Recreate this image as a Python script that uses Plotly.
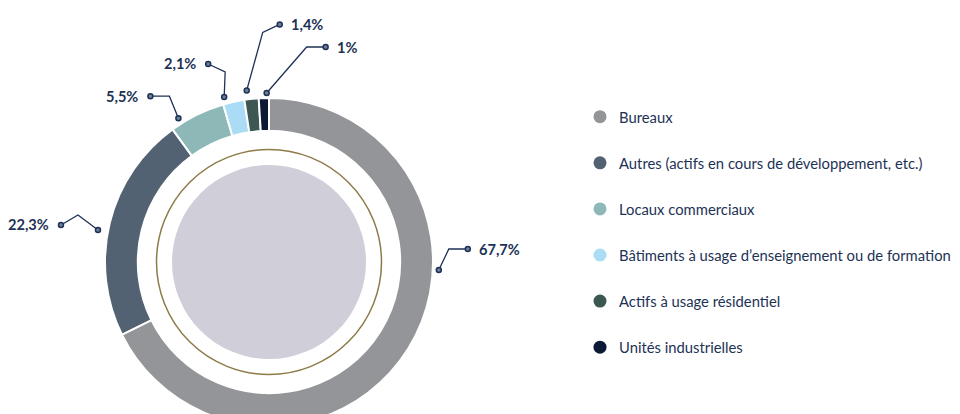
import math
import plotly.graph_objects as go

# ---------------- data ----------------
categories = [
    "Bureaux",
    "Autres (actifs en cours de développement, etc.)",
    "Locaux commerciaux",
    "Bâtiments à usage d’enseignement ou de formation",
    "Actifs à usage résidentiel",
    "Unités industrielles",
]
values = [67.7, 22.3, 5.5, 2.1, 1.4, 1.0]
colors = ["#939598", "#536272", "#8db8b7", "#aadcf5", "#3d5753", "#0c1a36"]

# ---------------- layout constants ----------------
W, H = 960, 430
OFF = 8  # page body margin: screen pixel = axis value
CX, CY, R = 269, 262, 164
HOLE = 0.8
NAVY = "#1d3255"
FONT = "Lato, 'Open Sans', sans-serif"

# leader-line styling per slice (anchor angle clockwise from top, radius, elbow offset, end offset, side)
leaders = [
    dict(angle=92.7, r=170, elbow=(10, -21), end=(19, 0), side="right"),
    dict(angle=280.6, r=174, elbow=(-20, -15), end=(-17, 10), side="left"),
    dict(angle=327.8, r=170, elbow=(-9, -22), end=(-19, 0), side="left"),
    dict(angle=344.8, r=171, elbow=(1, -25), end=(-17, -8), side="left"),
    dict(angle=352.6, r=173, elbow=(16, -58), end=(17, -8), side="right"),
    dict(angle=359.2, r=169, elbow=(40, -46), end=(19, 0), side="right"),
]


def fmt(v):
    return f"{v:g}".replace(".", ",") + "%"


fig = go.Figure()

# donut
fig.add_trace(go.Pie(
    labels=categories,
    values=values,
    hole=HOLE,
    sort=False,
    direction="clockwise",
    rotation=0,
    textinfo="none",
    hoverinfo="label+percent",
    marker=dict(colors=colors, line=dict(color="white", width=2)),
    showlegend=False,
    domain=dict(
        x=[(CX - R - OFF) / W, (CX + R - OFF) / W],
        y=[1 - (CY + R - OFF) / H, 1 - (CY - R - OFF) / H],
    ),
))

# leader lines + labels
annotations = []
for v, ld in zip(values, leaders):
    th = math.radians(ld["angle"])
    ax = CX + ld["r"] * math.sin(th)
    ay = CY - ld["r"] * math.cos(th)
    ex, ey = ax + ld["elbow"][0], ay + ld["elbow"][1]
    fx, fy = ex + ld["end"][0], ey + ld["end"][1]
    fig.add_trace(go.Scatter(
        x=[ax, ex, fx], y=[ay, ey, fy], mode="lines",
        line=dict(color=NAVY, width=1.3), hoverinfo="skip", showlegend=False,
    ))
    fig.add_trace(go.Scatter(
        x=[ax, fx], y=[ay, fy], mode="markers",
        marker=dict(size=5, color="#6f7f99", line=dict(color=NAVY, width=1.5)),
        hoverinfo="skip", showlegend=False,
    ))
    right = ld["side"] == "right"
    annotations.append(dict(
        x=fx + (9 if right else -10), y=fy, xref="x", yref="y",
        text=f"<b>{fmt(v)}</b>", showarrow=False,
        xanchor="left" if right else "right", yanchor="middle",
        font=dict(family=FONT, size=14.6, color=NAVY),
    ))

# custom legend
LX, LY0, LDY = 600, 116.7, 46.1
fig.add_trace(go.Scatter(
    x=[LX] * len(categories),
    y=[LY0 + i * LDY for i in range(len(categories))],
    mode="markers",
    marker=dict(size=13, color=colors, line=dict(width=0)),
    hoverinfo="skip", showlegend=False,
))
for i, c in enumerate(categories):
    annotations.append(dict(
        x=LX + 17, y=LY0 + i * LDY, xref="x", yref="y",
        text=c, showarrow=False, xanchor="left", yanchor="middle",
        font=dict(family=FONT, size=14.8, color=NAVY),
    ))

shapes = [
    dict(type="circle", xref="x", yref="y", x0=CX - 97, x1=CX + 97, y0=CY - 97, y1=CY + 97,
         fillcolor="#cfced9", line=dict(width=0), layer="below"),
    dict(type="circle", xref="x", yref="y", x0=CX - 112.5, x1=CX + 112.5, y0=CY - 112.5, y1=CY + 112.5,
         fillcolor="rgba(0,0,0,0)", line=dict(color="#8f7b4a", width=1.5), layer="below"),
]

fig.update_layout(
    width=W, height=H,
    margin=dict(l=0, r=0, t=0, b=0),
    paper_bgcolor="white", plot_bgcolor="white",
    xaxis=dict(range=[OFF, W + OFF], visible=False, fixedrange=True, domain=[0, 1]),
    yaxis=dict(range=[H + OFF, OFF], visible=False, fixedrange=True, domain=[0, 1]),
    annotations=annotations,
    shapes=shapes,
    font=dict(family=FONT, color=NAVY),
)

fig.write_html("out.html")
